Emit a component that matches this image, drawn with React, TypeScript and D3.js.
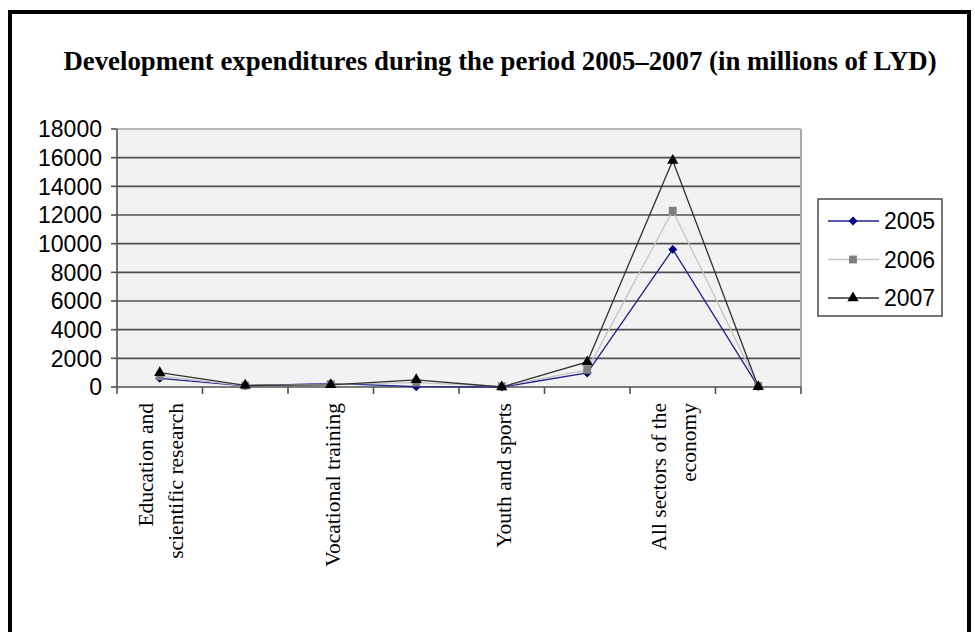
import {useEffect, useRef} from 'react';
import * as d3 from 'd3';

// categories (only every other one carries a label in the source chart)
const categories = [
    'Education and\nscientific research',
    '',
    'Vocational training',
    '',
    'Youth and sports',
    '',
    'All sectors of the\neconomy',
    '',
];
const years = ['2005', '2006', '2007'];
const values2005 = [600, 80, 250, 20, 0, 980, 9600, 30];
const values2006 = [750, 100, 200, 300, 50, 1200, 12300, 80];
const values2007 = [1000, 120, 150, 500, 0, 1750, 15800, 20];
const yTicks = [0, 2000, 4000, 6000, 8000, 10000, 12000, 14000, 16000, 18000];
const title = 'Development expenditures during the period 2005\u20132007 (in millions of LYD)';

const seriesValues = [values2005, values2006, values2007];
const lineColors = ['#1f1f8f', '#c4c4c4', '#303030'];
const markerColors = ['#000080', '#808080', '#000000'];

const W = 975;
const H = 632;

const App = () => {
    const ref = useRef<SVGSVGElement>(null);

    useEffect(() => {
        const svg = d3.select(ref.current);
        svg.selectAll('*').remove();

        const margin = {top: 129, right: 174, bottom: 245, left: 117};
        const x = d3.scaleBand<number>()
            .domain(d3.range(categories.length))
            .range([margin.left, W - margin.right]);
        const y = d3.scaleLinear()
            .domain([0, 18000])
            .range([H - margin.bottom, margin.top]);
        const cx = (i: number) => x(i)! + x.bandwidth() / 2;

        // outer frame
        svg.append('rect')
            .attr('x', 10).attr('y', 12)
            .attr('width', 959).attr('height', 660)
            .attr('fill', 'white')
            .attr('stroke', 'black')
            .attr('stroke-width', 4);

        svg.append('text')
            .attr('x', 500).attr('y', 70)
            .attr('text-anchor', 'middle')
            .style('font-family', '"Liberation Serif", "Times New Roman", serif')
            .style('font-weight', 'bold')
            .style('font-size', '26.8px')
            .text(title);

        const [x0, x1] = x.range();
        const [yb, yt] = y.range();

        // plot area
        svg.append('rect')
            .attr('x', x0).attr('y', yt)
            .attr('width', x1 - x0).attr('height', yb - yt)
            .attr('fill', '#f2f2f2');

        svg.append('g').selectAll('line')
            .data(yTicks.filter(t => t > 0))
            .enter().append('line')
            .attr('x1', x0).attr('x2', x1)
            .attr('y1', d => y(d)).attr('y2', d => y(d))
            .attr('stroke', d => d === 18000 ? '#a0a0a0' : '#505050')
            .attr('stroke-width', 1.6);

        svg.append('line')
            .attr('x1', x1).attr('x2', x1)
            .attr('y1', yt).attr('y2', yb)
            .attr('stroke', '#a8a8a8')
            .attr('stroke-width', 2);

        // y axis
        const yAxis = svg.append('g');
        yAxis.append('line')
            .attr('x1', x0).attr('x2', x0)
            .attr('y1', yt).attr('y2', yb)
            .attr('stroke', '#505050').attr('stroke-width', 1.6);
        yAxis.selectAll('line.tick')
            .data(yTicks)
            .enter().append('line')
            .attr('class', 'tick')
            .attr('x1', x0 - 6).attr('x2', x0)
            .attr('y1', d => y(d)).attr('y2', d => y(d))
            .attr('stroke', '#505050').attr('stroke-width', 1.6);
        yAxis.selectAll('text')
            .data(yTicks)
            .enter().append('text')
            .attr('x', x0 - 15)
            .attr('y', d => y(d))
            .attr('dy', '0.36em')
            .attr('text-anchor', 'end')
            .style('font-family', '"Liberation Sans", Arial, sans-serif')
            .style('font-size', '23px')
            .text(d => d);

        // x axis
        const xAxis = svg.append('g');
        xAxis.append('line')
            .attr('x1', x0).attr('x2', x1)
            .attr('y1', yb).attr('y2', yb)
            .attr('stroke', '#505050').attr('stroke-width', 1.6);
        xAxis.selectAll('line.tick')
            .data(d3.range(categories.length + 1))
            .enter().append('line')
            .attr('class', 'tick')
            .attr('x1', i => x0 + i * x.step()).attr('x2', i => x0 + i * x.step())
            .attr('y1', yb).attr('y2', yb + 7)
            .attr('stroke', '#505050').attr('stroke-width', 1.6);

        categories.forEach((label, i) => {
            if (!label) return;
            const lines = label.split('\n');
            lines.forEach((ln, j) => {
                const off = lines.length === 1 ? 9 : -7 + j * 30;
                xAxis.append('text')
                    .attr('transform', `translate(${cx(i) + off},${yb + 16}) rotate(-90)`)
                    .attr('text-anchor', 'end')
                    .style('font-family', '"Liberation Serif", "Times New Roman", serif')
                    .style('font-size', '21.5px')
                    .text(ln);
            });
        });

        // series
        const symbols = [
            d3.symbol(d3.symbolSquare, 40),
            d3.symbol(d3.symbolSquare, 62),
            d3.symbol(d3.symbolTriangle, 55),
        ];
        const rotation = [45, 0, 0];
        const line = d3.line<number>()
            .x((_, i) => cx(i))
            .y(d => y(d));

        seriesValues.forEach((vals, s) => {
            const g = svg.append('g');
            g.append('path')
                .attr('d', line(vals))
                .attr('fill', 'none')
                .attr('stroke', lineColors[s])
                .attr('stroke-width', 1.3);
            g.selectAll('path.m')
                .data(vals)
                .enter().append('path')
                .attr('class', 'm')
                .attr('d', symbols[s]())
                .attr('transform', (d, i) => `translate(${cx(i)},${y(d)}) rotate(${rotation[s]})`)
                .attr('fill', markerColors[s]);
        });

        // legend
        const legend = svg.append('g');
        legend.append('rect')
            .attr('x', 818).attr('y', 199)
            .attr('width', 124).attr('height', 117)
            .attr('fill', 'white')
            .attr('stroke', '#555555')
            .attr('stroke-width', 1.6);
        const ly = d3.scalePoint<string>().domain(years).range([221, 298]);
        years.forEach((yr, s) => {
            const yy = ly(yr)!;
            legend.append('line')
                .attr('x1', 828).attr('x2', 879)
                .attr('y1', yy).attr('y2', yy)
                .attr('stroke', lineColors[s])
                .attr('stroke-width', 1.3);
            legend.append('path')
                .attr('d', symbols[s]())
                .attr('transform', `translate(853,${yy}) rotate(${rotation[s]})`)
                .attr('fill', markerColors[s]);
            legend.append('text')
                .attr('x', 884).attr('y', yy)
                .attr('dy', '0.36em')
                .style('font-family', '"Liberation Sans", Arial, sans-serif')
                .style('font-size', '23px')
                .text(yr);
        });
    }, []);

    return (
        <svg ref={ref} width={W} height={H}
             style={{position: 'absolute', left: 0, top: 0, background: 'white'}}/>
    );
};

export default App;
